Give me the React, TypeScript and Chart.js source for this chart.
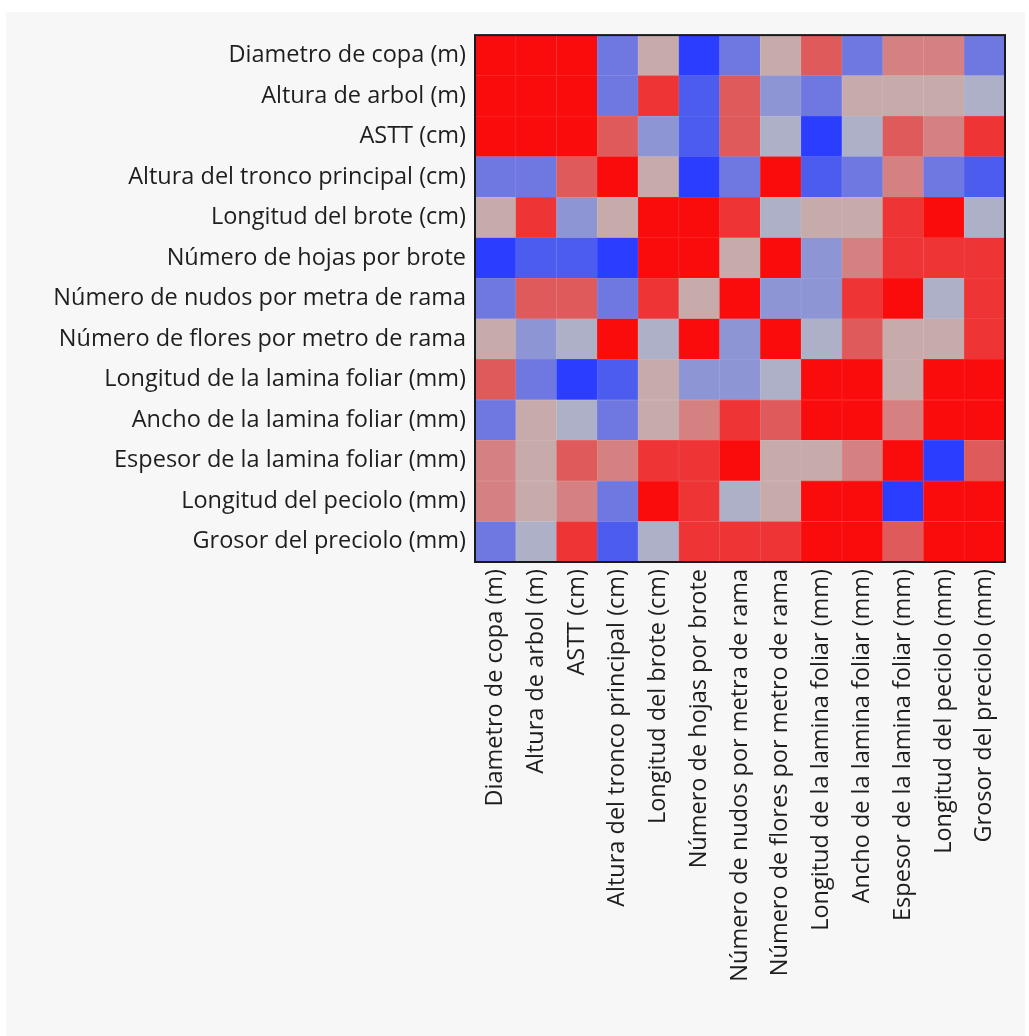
import React, { useEffect, useRef } from "react";
import { Chart, registerables } from "chart.js";

Chart.register(...registerables);

const variables: string[] = [
  "Diametro de copa (m)",
  "Altura de arbol (m)",
  "ASTT (cm)",
  "Altura del tronco principal (cm)",
  "Longitud del brote (cm)",
  "Número de hojas por brote",
  "Número de nudos por metra de rama",
  "Número de flores por metro de rama",
  "Longitud de la lamina foliar (mm)",
  "Ancho de la lamina foliar (mm)",
  "Espesor de la lamina foliar (mm)",
  "Longitud del peciolo (mm)",
  "Grosor del preciolo (mm)",
];

// correlation rows (estimated from colour bins)
const diametroCopa = [1, 0.9, 0.9, -0.5, 0.1, -0.9, -0.5, 0.1, 0.5, -0.5, 0.3, 0.3, -0.5];
const alturaArbol = [0.9, 1, 0.9, -0.5, 0.7, -0.7, 0.5, -0.3, -0.5, 0.1, 0.1, 0.1, -0.1];
const astt = [0.9, 0.9, 1, 0.5, -0.3, -0.7, 0.5, -0.1, -0.9, -0.1, 0.5, 0.3, 0.7];
const alturaTronco = [-0.5, -0.5, 0.5, 1, 0.1, -0.9, -0.5, 0.9, -0.7, -0.5, 0.3, -0.5, -0.7];
const longitudBrote = [0.1, 0.7, -0.3, 0.1, 1, 0.9, 0.7, -0.1, 0.1, 0.1, 0.7, 0.9, -0.1];
const numeroHojas = [-0.9, -0.7, -0.7, -0.9, 0.9, 1, 0.1, 0.9, -0.3, 0.3, 0.7, 0.7, 0.7];
const numeroNudos = [-0.5, 0.5, 0.5, -0.5, 0.7, 0.1, 1, -0.3, -0.3, 0.7, 0.9, -0.1, 0.7];
const numeroFlores = [0.1, -0.3, -0.1, 0.9, -0.1, 0.9, -0.3, 1, -0.1, 0.5, 0.1, 0.1, 0.7];
const longitudLamina = [0.5, -0.5, -0.9, -0.7, 0.1, -0.3, -0.3, -0.1, 1, 0.9, 0.1, 0.9, 0.9];
const anchoLamina = [-0.5, 0.1, -0.1, -0.5, 0.1, 0.3, 0.7, 0.5, 0.9, 1, 0.3, 0.9, 0.9];
const espesorLamina = [0.3, 0.1, 0.5, 0.3, 0.7, 0.7, 0.9, 0.1, 0.1, 0.3, 1, -0.9, 0.5];
const longitudPeciolo = [0.3, 0.1, 0.3, -0.5, 0.9, 0.7, -0.1, 0.1, 0.9, 0.9, -0.9, 1, 0.9];
const grosorPeciolo = [-0.5, -0.1, 0.7, -0.7, -0.1, 0.7, 0.7, 0.7, 0.9, 0.9, 0.5, 0.9, 1];

const matrix = [
  diametroCopa, alturaArbol, astt, alturaTronco, longitudBrote, numeroHojas,
  numeroNudos, numeroFlores, longitudLamina, anchoLamina, espesorLamina,
  longitudPeciolo, grosorPeciolo,
];

const binEdges = [0.8, 0.6, 0.4, 0.2, 0, -0.2, -0.4, -0.6, -0.8];
const binColors = [
  "#fb0c0c", "#ee3434", "#df5b5b", "#d58181", "#c7abab",
  "#adb0c6", "#8d95d4", "#6f78e0", "#4b5cef", "#2b3dfe",
];

function colorFor(v: number): string {
  for (let i = 0; i < binEdges.length; i++) {
    if (v >= binEdges[i]) return binColors[i];
  }
  return binColors[binColors.length - 1];
}

function lighten(hex: string, t: number): string {
  const r = parseInt(hex.slice(1, 3), 16);
  const g = parseInt(hex.slice(3, 5), 16);
  const b = parseInt(hex.slice(5, 7), 16);
  const m = (c: number) => Math.round(c + (255 - c) * t);
  return `rgb(${m(r)},${m(g)},${m(b)})`;
}

const FONT = "'Open Sans', 'Noto Sans', sans-serif";
const FONT_SIZE = 23.5;

const borderPlugin = {
  id: "plotBorder",
  afterDraw(chart: any) {
    const { ctx, chartArea } = chart;
    ctx.save();
    ctx.strokeStyle = "#1a1a1a";
    ctx.lineWidth = 2;
    ctx.strokeRect(chartArea.left, chartArea.top, chartArea.right - chartArea.left, chartArea.bottom - chartArea.top);
    ctx.restore();
  },
};

export default function App() {
  const ref = useRef<HTMLCanvasElement | null>(null);

  useEffect(() => {
    if (!ref.current) return;
    const n = variables.length;
    // stacked unit cells: dataset i = row (n-1-i) so first row is on top
    const datasets = [];
    for (let i = 0; i < n; i++) {
      const r = n - 1 - i;
      const rowVals = matrix[r];
      datasets.push({
        label: variables[r],
        data: rowVals.map((v, c) => ({ x: variables[c], y: 1, v })),
        backgroundColor: rowVals.map((v) => colorFor(v)),
        borderColor: rowVals.map((v) => lighten(colorFor(v), 0.13)),
        borderWidth: 0.6,
        borderSkipped: false,
        barPercentage: 1,
        categoryPercentage: 1,
      });
    }
    const chart = new Chart(ref.current, {
      type: "bar",
      data: { labels: variables, datasets: datasets as any },
      plugins: [borderPlugin],
      options: {
        animation: false,
        responsive: false,
        layout: { padding: { left: 0, top: 19, right: 20, bottom: 0 } },
        plugins: { legend: { display: false }, tooltip: { enabled: false } },
        scales: {
          x: {
            type: "category",
            stacked: true,
            grid: { display: false, drawTicks: false },
            border: { display: false },
            ticks: {
              minRotation: 90,
              maxRotation: 90,
              autoSkip: false,
              padding: 7,
              color: "#1e1e1e",
              font: { family: FONT, size: FONT_SIZE },
            },
            afterFit: (s: any) => { s.height = 474; },
          },
          y: {
            type: "linear",
            stacked: true,
            min: 0,
            max: n,
            grid: { display: false, drawTicks: false },
            border: { display: false },
            afterBuildTicks: (axis: any) => {
              axis.ticks = variables.map((_, i) => ({ value: i + 0.5 }));
            },
            ticks: {
              autoSkip: false,
              padding: 9,
              color: "#1e1e1e",
              font: { family: FONT, size: FONT_SIZE },
              callback: (val: any) => variables[n - 1 - Math.floor(Number(val))],
            },
            afterFit: (s: any) => { s.width = 469; },
          },
        },
      },
    });
    return () => chart.destroy();
  }, []);

  return (
    <div style={{ position: "absolute", left: 6, top: 12, width: 1019, height: 1024, background: "#f7f7f7" }}>
      <canvas ref={ref} width={1019} height={1024} style={{ display: "block" }} />
    </div>
  );
}
